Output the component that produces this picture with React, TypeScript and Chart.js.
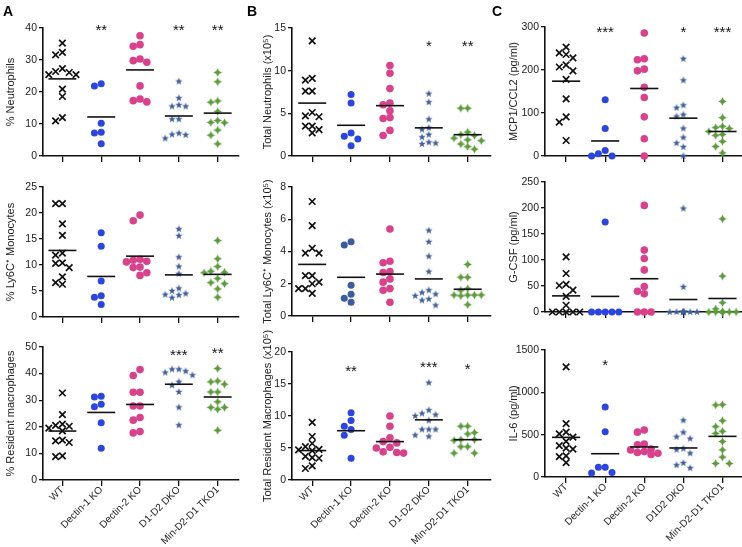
import React, { useEffect, useRef } from 'react';
import { Chart, registerables } from 'chart.js';

Chart.register(...registerables);

const FONT = '"Liberation Sans", Arial, Helvetica, sans-serif';

// ---------- categories ----------
const groupsAB = ['WT', 'Dectin-1 KO', 'Dectin-2 KO', 'D1-D2 DKO', 'Min-D2-D1 TKO1'];
const groupsC = ['WT', 'Dectin-1 KO', 'Dectin-2 KO', 'D1D2 DKO', 'Min-D2-D1 TKO1'];

// ---------- A: % Neutrophils ----------
const pctNeutrophils = [
  [35.3, 32.4, 31.6, 27.3, 26.4, 26.1, 25.4, 25.4, 20.9, 18.6, 12.0, 11.0],
  [22.6, 21.9, 10.2, 7.4, 7.2, 3.8],
  [37.6, 34.8, 34.3, 30.3, 29.8, 29.3, 21.9, 17.8, 17.3, 16.9],
  [23.3, 18.1, 15.9, 15.5, 15.5, 11.5, 11.5, 7.1, 6.7, 6.6, 5.5],
  [26.1, 23.2, 17.2, 16.8, 13.9, 11.1, 10.5, 10.4, 8.1, 6.5, 3.8],
];
const pctNeutrophilsMean = [24.1, 12.2, 26.9, 12.5, 13.4];
const pctNeutrophilsStars = ['', '**', '', '**', '**'];
const pctNeutrophilsStarY = [0, 40.4, 0, 40.4, 40.4];

// ---------- A: % Ly6C+ Monocytes ----------
const pctLy6C = [
  [21.8, 21.8, 17.9, 15.7, 12.3, 11.9, 10.4, 10.3, 9.5, 7.7, 6.6, 6.3],
  [16.2, 13.6, 6.9, 4.1, 3.8, 2.4],
  [19.6, 18.5, 11.1, 10.9, 10.7, 10.6, 9.6, 9.5, 8.5, 8.0],
  [16.9, 15.6, 11.5, 9.7, 8.3, 5.5, 5.0, 4.5, 4.3, 4.2, 3.7],
  [14.7, 11.2, 9.7, 8.8, 8.6, 8.5, 7.4, 6.6, 6.4, 5.4, 3.8],
];
const pctLy6CMean = [12.8, 7.8, 11.7, 8.1, 8.2];
const pctLy6CStars = ['', '', '', '', ''];
const pctLy6CStarY = [0, 0, 0, 0, 0];

// ---------- A: % Resident macrophages ----------
const pctResMac = [
  [32.7, 24.6, 21.0, 20.5, 20.2, 19.5, 18.5, 15.0, 14.7, 14.1, 9.1, 8.8],
  [31.5, 31.2, 28.5, 27.5, 21.5, 11.9],
  [41.5, 39.3, 33.0, 33.0, 27.8, 27.8, 23.5, 22.5, 18.2, 17.7],
  [41.6, 41.6, 40.9, 40.4, 39.4, 36.9, 35.6, 33.1, 27.3, 20.6],
  [41.9, 37.2, 36.9, 36.0, 33.1, 33.1, 29.4, 27.3, 27.3, 26.6, 18.7],
];
const pctResMacMean = [18.4, 25.4, 28.4, 36.0, 31.2];
const pctResMacStars = ['', '', '', '***', '**'];
const pctResMacStarY = [0, 0, 0, 48.4, 49.0];

// ---------- B: Total Neutrophils (x10^5) ----------
const totNeutrophils = [
  [13.5, 9.1, 8.9, 7.6, 7.6, 5.1, 4.7, 4.6, 3.5, 3.5, 3.1, 2.7],
  [7.2, 6.2, 2.7, 2.3, 2.0, 1.2],
  [10.6, 9.7, 7.9, 6.2, 6.0, 5.3, 4.5, 4.4, 3.0, 2.4],
  [7.3, 6.3, 4.3, 3.3, 3.1, 2.5, 2.2, 1.6, 1.5, 1.4],
  [5.6, 5.6, 2.8, 2.5, 2.4, 2.1, 1.9, 1.8, 1.4, 1.1, 0.8],
];
const totNeutrophilsMean = [6.2, 3.6, 5.9, 3.3, 2.5];
const totNeutrophilsStars = ['', '', '', '*', '**'];
const totNeutrophilsStarY = [0, 0, 0, 13.3, 13.3];

// ---------- B: Total Ly6C+ Monocytes (x10^5) ----------
const totLy6C = [
  [7.1, 5.6, 4.2, 3.9, 3.9, 2.5, 2.5, 2.1, 2.0, 1.7, 1.7, 1.4],
  [4.6, 4.4, 1.9, 1.35, 1.1, 0.86],
  [5.4, 3.4, 3.3, 2.75, 2.7, 2.3, 2.1, 1.7, 1.6, 0.85],
  [5.3, 4.6, 3.7, 2.75, 1.6, 1.45, 1.35, 1.25, 1.05, 0.97, 0.66],
  [3.2, 2.4, 2.4, 1.7, 1.6, 1.3, 1.3, 1.3, 1.3, 1.25, 0.7],
];
const totLy6CMean = [3.2, 2.4, 2.6, 2.3, 1.66];
const totLy6CStars = ['', '', '', '', ''];
const totLy6CStarY = [0, 0, 0, 0, 0];

// ---------- B: Total Resident Macrophages (x10^5) ----------
const totResMac = [
  [9.0, 6.8, 5.7, 5.2, 4.8, 4.7, 4.6, 3.7, 3.5, 3.4, 2.2, 1.8],
  [10.5, 9.3, 8.4, 7.9, 7.0, 3.4],
  [10.0, 8.4, 6.6, 6.0, 5.8, 5.1, 5.0, 4.4, 4.3, 4.2],
  [15.2, 10.9, 10.4, 10.2, 10.0, 9.3, 7.9, 7.9, 7.9, 7.0, 6.8],
  [8.4, 8.4, 7.4, 7.2, 6.3, 6.3, 6.2, 5.2, 5.2, 4.2, 4.2],
];
const totResMacMean = [4.6, 7.7, 6.0, 9.4, 6.3];
const totResMacStars = ['', '**', '', '***', '*'];
const totResMacStarY = [0, 17.6, 0, 18.2, 17.9];

// ---------- C: MCP1/CCL2 (pg/ml) ----------
const mcp1 = [
  [253, 240, 236, 228, 212, 207, 198, 178, 133, 91, 79, 36],
  [131, 64, 13, 5, 0, 0],
  [286, 226, 224, 202, 198, 160, 136, 91, 40, 0],
  [226, 176, 118, 112, 96, 92, 64, 43, 30, 21, 0],
  [127, 89, 69, 66, 64, 57, 50, 48, 34, 22, 7],
];
const mcp1Mean = [174, 35, 157, 88, 57];
const mcp1Stars = ['', '***', '', '*', '***'];
const mcp1StarY = [0, 297, 0, 297, 297];

// ---------- C: G-CSF (pg/ml) ----------
const gcsf = [
  [106, 74, 53, 51, 42, 30, 13, 0, 0, 0, 0, 0],
  [173, 0, 0, 0, 0, 0],
  [205, 119, 103, 81, 49, 40, 35, 0, 0, 0],
  [199, 48, 0, 0, 0, 0, 0, 0, 0, 0, 0],
  [179, 69, 18, 6, 0, 0, 0, 0, 0, 0, 0],
];
const gcsfMean = [31, 30, 64, 24, 26];
const gcsfStars = ['', '', '', '', ''];
const gcsfStarY = [0, 0, 0, 0, 0];

// ---------- C: IL-6 (pg/ml) ----------
const il6 = [
  [1300, 630, 530, 510, 470, 420, 370, 340, 330, 250, 240, 170],
  [827, 535, 114, 114, 52, 47],
  [555, 530, 390, 380, 330, 320, 300, 290, 280, 265],
  [669, 527, 475, 453, 335, 323, 280, 165, 140, 106],
  [855, 850, 665, 595, 540, 515, 420, 320, 235, 160, 160],
];
const il6Mean = [468, 275, 355, 343, 480];
const il6Stars = ['', '*', '', '', ''];
const il6StarY = [0, 1366, 0, 0, 0];

// ---------- layout / styles ----------
const COLS = [
  { canvasLeft: 4, axisX: 43, titleX: 11, xMin: -0.5, xMax: 4.55, unit: 38.8 },
  { canvasLeft: 257, axisX: 292, titleX: 268, xMin: -0.52, xMax: 4.6, unit: 38.8 },
  { canvasLeft: 503, axisX: 545, titleX: 514, xMin: -0.54, xMax: 4.5, unit: 39 },
];

const COLOR_WT = '#111111';
const COLOR_D1 = '#2b45e2';
const COLOR_D1_DARK = '#3d5c9e';
const COLOR_D2 = '#d9428b';
const COLOR_DKO = '#3e5d97';
const COLOR_TKO = '#5c9b3c';

type PanelSpec = {
  col: number;
  plotTop: number;
  plotBottom: number;
  values: number[][];
  means: number[];
  stars: string[];
  starY: number[];
  yMax: number;
  yStep: number;
  title: string;
  labels: string[] | null;
  d1Color?: string;
};

const PANELS: PanelSpec[] = [
  { col: 0, plotTop: 28, plotBottom: 156, values: pctNeutrophils, means: pctNeutrophilsMean, stars: pctNeutrophilsStars, starY: pctNeutrophilsStarY, yMax: 40, yStep: 10, title: '% Neutrophils', labels: null },
  { col: 0, plotTop: 187, plotBottom: 317, values: pctLy6C, means: pctLy6CMean, stars: pctLy6CStars, starY: pctLy6CStarY, yMax: 25, yStep: 5, title: '% Ly6C\u207A Monocytes', labels: null },
  { col: 0, plotTop: 347, plotBottom: 480, values: pctResMac, means: pctResMacMean, stars: pctResMacStars, starY: pctResMacStarY, yMax: 50, yStep: 10, title: '% Resident macrophages', labels: groupsAB },
  { col: 1, plotTop: 28, plotBottom: 156, values: totNeutrophils, means: totNeutrophilsMean, stars: totNeutrophilsStars, starY: totNeutrophilsStarY, yMax: 15, yStep: 5, title: 'Total Neutrophils (x10\u2075)', labels: null },
  { col: 1, plotTop: 187, plotBottom: 316, values: totLy6C, means: totLy6CMean, stars: totLy6CStars, starY: totLy6CStarY, yMax: 8, yStep: 2, title: 'Total Ly6C\u207A Monocytes (x10\u2075)', labels: null, d1Color: COLOR_D1_DARK },
  { col: 1, plotTop: 352, plotBottom: 480, values: totResMac, means: totResMacMean, stars: totResMacStars, starY: totResMacStarY, yMax: 20, yStep: 5, title: 'Total Resident Macrophages (x10\u2075)', labels: groupsAB },
  { col: 2, plotTop: 27, plotBottom: 156, values: mcp1, means: mcp1Mean, stars: mcp1Stars, starY: mcp1StarY, yMax: 300, yStep: 100, title: 'MCP1/CCL2 (pg/ml)', labels: null },
  { col: 2, plotTop: 182, plotBottom: 312, values: gcsf, means: gcsfMean, stars: gcsfStars, starY: gcsfStarY, yMax: 250, yStep: 50, title: 'G-CSF (pg/ml)', labels: null },
  { col: 2, plotTop: 350, plotBottom: 477, values: il6, means: il6Mean, stars: il6Stars, starY: il6StarY, yMax: 1500, yStep: 500, title: 'IL-6 (pg/ml)', labels: groupsC },
];

function makeShape(color: string, points: number, outer: number, inner: number): HTMLCanvasElement {
  const s = Math.ceil(outer * 2 + 2);
  const c = document.createElement('canvas');
  c.width = s;
  c.height = s;
  const ctx = c.getContext('2d')!;
  ctx.fillStyle = color;
  ctx.beginPath();
  for (let k = 0; k < points * 2; k++) {
    const r = k % 2 === 0 ? outer : inner;
    const a = -Math.PI / 2 + (k * Math.PI) / points;
    const x = s / 2 + r * Math.cos(a);
    const y = s / 2 + r * Math.sin(a);
    if (k === 0) ctx.moveTo(x, y);
    else ctx.lineTo(x, y);
  }
  ctx.closePath();
  ctx.fill();
  return c;
}

// simple dot-plot spreading of overlapping points (pixel space)
function swarmOffsets(vals: number[], pxY: number, pxX: number): number[] {
  const order = vals.map((_, i) => i).sort((a, b) => vals[b] - vals[a]);
  const placed: { x: number; y: number }[] = [];
  const offsets = new Array(vals.length).fill(0);
  const cands = [0, -1, 1, -2, 2];
  const step = 6.8;
  const minD = 6.5;
  for (const i of order) {
    const y = vals[i] * pxY;
    let best = 0;
    let bestD = -1;
    for (const c of cands) {
      const x = c * step;
      let d = Infinity;
      for (const p of placed) d = Math.min(d, Math.hypot(p.x - x, p.y - y));
      if (d >= minD) {
        best = x;
        break;
      }
      if (d > bestD) {
        bestD = d;
        best = x;
      }
    }
    placed.push({ x: best, y });
    offsets[i] = best / pxX;
  }
  return offsets;
}

function Panel({ spec }: { spec: PanelSpec }) {
  const ref = useRef<HTMLCanvasElement>(null);
  const col = COLS[spec.col];
  const padTop = 24;
  const padRight = 3;
  const canvasTop = spec.plotTop - padTop;
  const plotRight = col.axisX + (col.xMax - col.xMin) * col.unit;
  const width = Math.ceil(plotRight - col.canvasLeft + padRight);
  const xH = spec.labels ? 547 - spec.plotBottom : 10;
  const height = spec.plotBottom - canvasTop + xH;

  useEffect(() => {
    const canvas = ref.current!;
    const pxY = (spec.plotBottom - spec.plotTop) / spec.yMax;
    const starShape = makeShape(COLOR_DKO, 5, 3.9, 1.6);
    const plusShape = makeShape(COLOR_TKO, 4, 4.3, 2.0);
    const d1 = spec.d1Color || COLOR_D1;
    const styles: any[] = [
      { pointStyle: 'crossRot', pointRadius: 4.6, borderColor: COLOR_WT, backgroundColor: COLOR_WT, borderWidth: 1.7 },
      { pointStyle: 'circle', pointRadius: 3.5, borderColor: d1, backgroundColor: d1, borderWidth: 0 },
      { pointStyle: 'circle', pointRadius: 3.8, borderColor: COLOR_D2, backgroundColor: COLOR_D2, borderWidth: 0 },
      { pointStyle: starShape, pointRadius: 4, borderColor: COLOR_DKO, backgroundColor: COLOR_DKO, borderWidth: 0 },
      { pointStyle: plusShape, pointRadius: 4, borderColor: COLOR_TKO, backgroundColor: COLOR_TKO, borderWidth: 0 },
    ];
    const datasets: any[] = [];
    spec.means.forEach((m, i) => {
      datasets.push({
        type: 'line',
        data: [
          { x: i - 0.36, y: m },
          { x: i + 0.36, y: m },
        ],
        borderColor: '#111',
        borderWidth: 1.6,
        pointRadius: 0,
        clip: false,
      });
    });
    spec.values.forEach((vals, i) => {
      const offs = swarmOffsets(vals, pxY, col.unit);
      const st = styles[i];
      datasets.push({
        type: 'scatter',
        data: vals.map((v, j) => ({ x: i + offs[j], y: v })),
        pointStyle: st.pointStyle,
        pointRadius: st.pointRadius,
        pointBorderWidth: st.borderWidth,
        borderWidth: st.borderWidth,
        borderColor: st.borderColor,
        backgroundColor: st.backgroundColor,
        pointBorderColor: st.borderColor,
        pointBackgroundColor: st.backgroundColor,
        clip: false,
      });
    });

    const annot = {
      id: 'annot',
      afterDraw(chart: any) {
        const { ctx, scales, chartArea } = chart;
        const xs = scales.x;
        const ys = scales.y;
        ctx.save();
        ctx.fillStyle = '#111';
        ctx.font = `15px ${FONT}`;
        ctx.textAlign = 'center';
        ctx.textBaseline = 'alphabetic';
        spec.stars.forEach((s, i) => {
          if (s) ctx.fillText(s, xs.getPixelForValue(i), ys.getPixelForValue(spec.starY[i]) + 8.5);
        });
        ctx.translate(col.titleX - col.canvasLeft, (chartArea.top + chartArea.bottom) / 2);
        ctx.rotate(-Math.PI / 2);
        ctx.font = `11px ${FONT}`;
        ctx.textBaseline = 'middle';
        ctx.fillStyle = '#222';
        ctx.fillText(spec.title, 0, 0);
        ctx.restore();
      },
    };

    const n = spec.values.length;
    const chart = new Chart(canvas, {
      type: 'scatter',
      data: { datasets },
      plugins: [annot],
      options: {
        responsive: false,
        animation: false,
        events: [],
        layout: { autoPadding: false, padding: { top: padTop, left: 0, right: padRight, bottom: 0 } },
        plugins: { legend: { display: false }, tooltip: { enabled: false } },
        scales: {
          x: {
            type: 'linear',
            min: col.xMin,
            max: col.xMax,
            afterBuildTicks: (s: any) => {
              s.ticks = Array.from({ length: n }, (_, i) => ({ value: i }));
            },
            ticks: {
              autoSkip: false,
              minRotation: 45,
              maxRotation: 45,
              color: '#222',
              font: { family: FONT, size: 10 },
              padding: -2,
              callback: (v: any) => (spec.labels ? spec.labels[v] ?? '' : ''),
            },
            grid: { drawOnChartArea: false, drawTicks: true, tickLength: 6, color: '#111', lineWidth: 1.3 },
            border: { display: true, color: '#111', width: 1.6 },
            afterFit: (s: any) => {
              s.height = xH;
              s.paddingLeft = 0;
              s.paddingRight = 0;
            },
          },
          y: {
            type: 'linear',
            min: 0,
            max: spec.yMax,
            ticks: {
              stepSize: spec.yStep,
              color: '#222',
              font: { family: FONT, size: 10.5 },
              padding: 2,
              callback: (v: any) => String(v),
            },
            grid: { drawOnChartArea: false, drawTicks: true, tickLength: 4, color: '#111', lineWidth: 1.3 },
            border: { display: true, color: '#111', width: 1.6 },
            afterFit: (s: any) => {
              s.width = col.axisX - col.canvasLeft;
              s.paddingTop = 0;
              s.paddingBottom = 0;
            },
          },
        },
      } as any,
    });
    return () => chart.destroy();
  }, []);

  return (
    <canvas
      ref={ref}
      width={width}
      height={height}
      style={{ position: 'absolute', left: col.canvasLeft, top: canvasTop, width, height }}
    />
  );
}

const LETTERS = [
  { t: 'A', x: 3 },
  { t: 'B', x: 247 },
  { t: 'C', x: 492 },
];

export default function App() {
  return (
    <div
      style={{
        position: 'fixed',
        left: 0,
        top: 0,
        width: 742,
        height: 547,
        overflow: 'hidden',
        background: '#fff',
        fontFamily: FONT,
      }}
    >
      {PANELS.map((p, i) => (
        <Panel key={i} spec={p} />
      ))}
      {LETTERS.map((l) => (
        <div
          key={l.t}
          style={{ position: 'absolute', left: l.x, top: 4, fontSize: 14, lineHeight: '14px', fontWeight: 'bold', color: '#000' }}
        >
          {l.t}
        </div>
      ))}
    </div>
  );
}
